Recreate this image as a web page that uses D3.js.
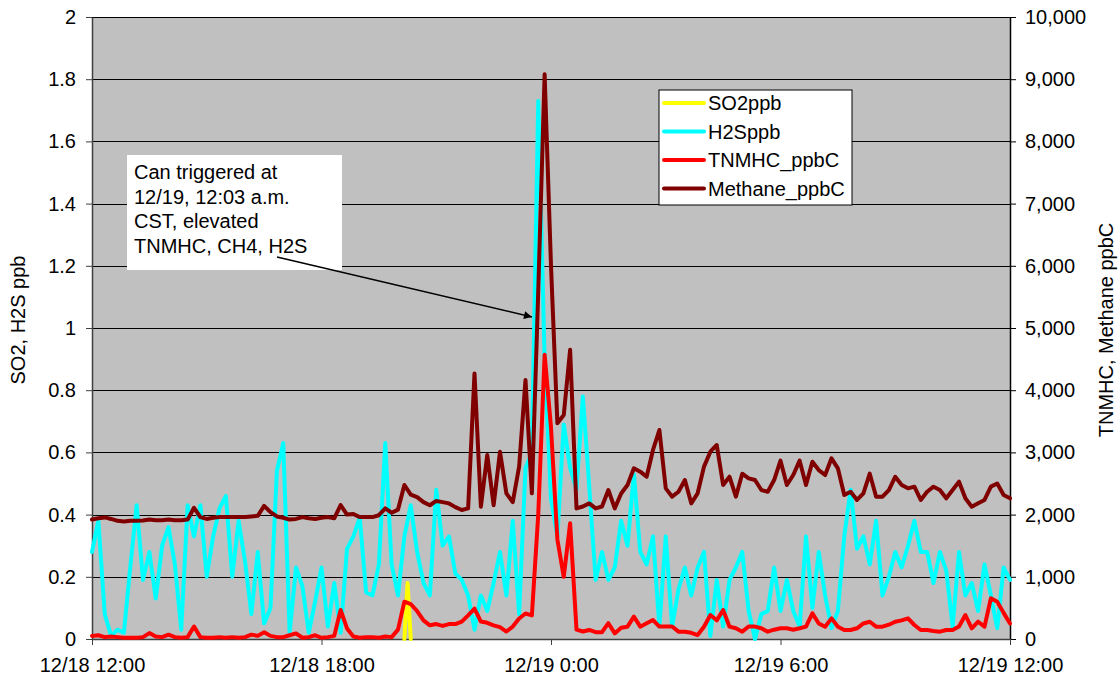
<!DOCTYPE html>
<html>
<head>
<meta charset="utf-8">
<script src="https://cdn.jsdelivr.net/npm/d3@7"></script>
<style>
  body { margin: 0; background: #fff; }
  svg text { font-family: "Liberation Sans", Arial, sans-serif; fill: #000; }
</style>
</head>
<body>
<svg id="chart"></svg>
<script>
// readings every 10 minutes from 12/18 12:00 to 12/19 12:00
const startTime = new Date(2008, 11, 18, 12, 0)
const stepMinutes = 10

const h2sPpb = [
  0.28, 0.38, 0.08, 0.01, 0.03, 0.02, 0.23, 0.43, 0.19, 0.28,
  0.13, 0.30, 0.36, 0.24, 0.03, 0.43, 0.33, 0.43, 0.20, 0.33,
  0.42, 0.46, 0.20, 0.38, 0.25, 0.08, 0.28, 0.05, 0.10, 0.54,
  0.63, 0.02, 0.23, 0.17, 0.02, 0.12, 0.23, 0.04, 0.18, 0.02,
  0.29, 0.33, 0.39, 0.15, 0.14, 0.24, 0.63, 0.24, 0.14, 0.33,
  0.43, 0.28, 0.18, 0.14, 0.48, 0.30, 0.33, 0.21, 0.19, 0.14,
  0.03, 0.14, 0.09, 0.18, 0.28, 0.14, 0.38, 0.08, 0.55, 0.60,
  1.73, 0.90, 0.45, 0.33, 0.69, 0.55, 0.48, 0.78, 0.49, 0.19,
  0.28, 0.19, 0.23, 0.38, 0.30, 0.53, 0.28, 0.24, 0.33, 0.04,
  0.33, 0.04, 0.16, 0.23, 0.14, 0.23, 0.28, 0.01, 0.19, 0.04,
  0.19, 0.23, 0.28, 0.09, 0.00, 0.08, 0.09, 0.23, 0.09, 0.19,
  0.09, 0.04, 0.33, 0.10, 0.28, 0.14, 0.035, 0.09, 0.33, 0.48,
  0.29, 0.33, 0.24, 0.38, 0.14, 0.20, 0.28, 0.23, 0.30, 0.38,
  0.28, 0.28, 0.18, 0.28, 0.22, 0.04, 0.28, 0.14, 0.18, 0.09,
  0.24, 0.14, 0.035, 0.23, 0.19
]

const tnmhcPpbC = [
  50, 60, 30, 40, 30, 20, 20, 20, 30, 95,
  40, 30, 70, 30, 20, 30, 200, 30, 20, 20,
  30, 20, 30, 20, 30, 70, 50, 110, 50, 30,
  30, 60, 90, 20, 30, 60, 20, 30, 50, 466,
  170, 40, 20, 30, 30, 20, 40, 30, 150, 600,
  560, 450, 300, 220, 240, 210, 240, 240, 280, 380,
  490, 280, 260, 220, 190, 120, 200, 330, 410, 380,
  2000, 4570, 3400, 1600, 1000, 1860, 150, 120, 145, 110,
  110, 254, 90, 180, 198, 359, 198, 252, 305, 200,
  200, 200, 118, 118, 100, 64, 198, 386, 300, 466,
  198, 172, 118, 200, 200, 172, 118, 150, 172, 172,
  150, 172, 200, 413, 250, 198, 332, 198, 145, 145,
  172, 250, 278, 198, 198, 230, 278, 300, 332, 225,
  145, 145, 130, 118, 145, 145, 200, 386, 172, 278,
  198, 654, 600, 420, 250
]

const methanePpbC = [
  1920, 1940, 1955, 1930, 1900, 1890, 1900, 1900, 1905, 1920,
  1910, 1910, 1920, 1910, 1910, 1920, 2110, 1960, 1930, 1950,
  1960, 1960, 1960, 1960, 1960, 1970, 1980, 2140, 2040, 1970,
  1950, 1920, 1930, 1960, 1940, 1930, 1950, 1960, 1940, 2154,
  2000, 2010, 1960, 1960, 1960, 1990, 2100, 2030, 2080, 2476,
  2320, 2280, 2200, 2150, 2220, 2200, 2180, 2120, 2074, 2100,
  4270, 2127, 2958, 2150, 3011, 2342, 2200, 2771, 4164, 2342,
  5600, 9080, 6000, 3470, 3600, 4650, 2100, 2130, 2180, 2100,
  2130, 2395, 2100, 2340, 2476, 2744, 2690, 2609, 3039, 3360,
  2422, 2288, 2368, 2556, 2181, 2342, 2771, 3011, 3119, 2476,
  2609, 2288, 2658, 2583, 2556, 2395, 2368, 2556, 2867, 2476,
  2636, 2867, 2476, 2851, 2716, 2636, 2905, 2744, 2315, 2368,
  2235, 2342, 2658, 2288, 2288, 2395, 2609, 2476, 2422, 2449,
  2235, 2368, 2449, 2395, 2262, 2395, 2529, 2262, 2127, 2181,
  2235, 2450, 2500, 2315, 2262
]

// SO2 only reported around the one short spike (minutes after start)
const so2Minutes = [490, 495, 500]
const so2Ppb = [0, 0.18, 0]

const leftTicks = [0, 0.2, 0.4, 0.6, 0.8, 1, 1.2, 1.4, 1.6, 1.8, 2]
const rightTicks = [0, 1000, 2000, 3000, 4000, 5000, 6000, 7000, 8000, 9000, 10000]
const xTickHours = [0, 6, 12, 18, 24]
const seriesNames = ['SO2ppb', 'H2Sppb', 'TNMHC_ppbC', 'Methane_ppbC']
const seriesColors = ['#ffff00', '#00ffff', '#ff0000', '#800000']
const noteLines = ['Can triggered at', '12/19, 12:03 a.m.', 'CST, elevated', 'TNMHC, CH4, H2S']

const W = 1120, H = 683
const plot = {left: 92, right: 1010, top: 17, bottom: 639}

const svg = d3.select('#chart')
              .attr('width', W)
              .attr('height', H)

const addMinutes = (m) => new Date(startTime.getTime() + m * 60000)

const x = d3.scaleTime()
  .domain([startTime, addMinutes(24 * 60)])
  .range([plot.left, plot.right])
const yLeft = d3.scaleLinear().domain([0, 2]).range([plot.bottom, plot.top])
const yRight = d3.scaleLinear().domain([0, 10000]).range([plot.bottom, plot.top])

// plot background
svg.append('rect')
  .attr('x', plot.left).attr('y', plot.top)
  .attr('width', plot.right - plot.left).attr('height', plot.bottom - plot.top)
  .attr('fill', '#c0c0c0')

// gridlines
svg.append('g')
  .selectAll('line')
  .data(leftTicks.slice(1))
  .join('line')
  .attr('x1', plot.left).attr('x2', plot.right)
  .attr('y1', d => Math.round(yLeft(d)) + 0.5)
  .attr('y2', d => Math.round(yLeft(d)) + 0.5)
  .attr('stroke', '#000')
  .attr('stroke-width', 1)

// axes
const styleAxis = (g, col) => {
  g.selectAll('.domain').attr('stroke', col).attr('stroke-width', 1.5)
  g.selectAll('.tick line').attr('stroke', col)
  g.selectAll('.tick text').style('font-size', '20px')
}

svg.append('g')
  .attr('transform', `translate(${plot.left},0)`)
  .call(d3.axisLeft(yLeft).tickValues(leftTicks).tickFormat(d3.format('~g'))
    .tickSize(6).tickSizeOuter(0).tickPadding(10))
  .call(g => styleAxis(g, '#404040'))

svg.append('g')
  .attr('transform', `translate(${plot.right},0)`)
  .call(d3.axisRight(yRight).tickValues(rightTicks).tickFormat(d3.format(','))
    .tickSize(6).tickSizeOuter(0).tickPadding(9))
  .call(g => styleAxis(g, '#000'))

svg.append('g')
  .attr('transform', `translate(0,${plot.bottom})`)
  .call(d3.axisBottom(x).tickValues(xTickHours.map(h => addMinutes(h * 60)))
    .tickFormat(d3.timeFormat('%m/%d %-H:%M'))
    .tickSize(6).tickSizeOuter(0).tickPadding(13))
  .call(g => styleAxis(g, '#404040'))

// axis titles
svg.append('text')
  .attr('transform', `translate(25,${(plot.top + plot.bottom) / 2 - 8}) rotate(-90)`)
  .attr('text-anchor', 'middle')
  .style('font-size', '20px')
  .text('SO2, H2S ppb')

svg.append('text')
  .attr('transform', `translate(1113,${(plot.top + plot.bottom) / 2 + 2}) rotate(-90)`)
  .attr('text-anchor', 'middle')
  .style('font-size', '20px')
  .text('TNMHC, Methane ppbC')

// series lines
const idxLine = (scale) => d3.line()
  .x((d, i) => x(addMinutes(i * stepMinutes)))
  .y(d => scale(d))

const lines = svg.append('g')
  .attr('fill', 'none')
  .attr('stroke-width', 4)
  .attr('stroke-linejoin', 'round')
  .attr('stroke-linecap', 'round')

lines.append('path')
  .attr('d', d3.line()
    .x((d, i) => x(addMinutes(so2Minutes[i])))
    .y(d => yLeft(d))(so2Ppb))
  .attr('stroke', seriesColors[0])

lines.append('path')
  .attr('d', idxLine(yLeft)(h2sPpb))
  .attr('stroke', seriesColors[1])

lines.append('path')
  .attr('d', idxLine(yRight)(tnmhcPpbC))
  .attr('stroke', seriesColors[2])

lines.append('path')
  .attr('d', idxLine(yRight)(methanePpbC))
  .attr('stroke', seriesColors[3])

// legend
const legend = svg.append('g').attr('transform', 'translate(659,90)')
legend.append('rect')
  .attr('width', 193).attr('height', 115)
  .attr('fill', '#fff').attr('stroke', '#000').attr('stroke-width', 1)

const rows = legend.selectAll('g.row')
  .data(seriesNames)
  .join('g')
  .attr('class', 'row')
  .attr('transform', (d, i) => `translate(0,${13 + i * 28.5})`)

rows.append('line')
  .attr('x1', 5).attr('x2', 45)
  .attr('stroke', (d, i) => seriesColors[i])
  .attr('stroke-width', 4)
  .attr('stroke-linecap', 'round')

rows.append('text')
  .attr('x', 49).attr('dy', '0.35em')
  .style('font-size', '20px')
  .text(d => d)

// callout
const note = svg.append('g')
note.append('rect')
  .attr('x', 127).attr('y', 155)
  .attr('width', 215).attr('height', 115)
  .attr('fill', '#fff')

note.selectAll('text')
  .data(noteLines)
  .join('text')
  .attr('x', 134)
  .attr('y', (d, i) => 179 + i * 24.5)
  .style('font-size', '20px')
  .text(d => d)

svg.append('defs').append('marker')
  .attr('id', 'arrow')
  .attr('viewBox', '0 0 10 10')
  .attr('refX', 10).attr('refY', 5)
  .attr('markerWidth', 10).attr('markerHeight', 8)
  .attr('markerUnits', 'userSpaceOnUse')
  .attr('orient', 'auto')
  .append('path')
  .attr('d', 'M0,0 L10,5 L0,10 z')
  .attr('fill', '#000')

note.append('line')
  .attr('x1', 277).attr('y1', 257)
  .attr('x2', 532).attr('y2', 317)
  .attr('stroke', '#000')
  .attr('stroke-width', 1.5)
  .attr('marker-end', 'url(#arrow)')
</script>
</body>
</html>
